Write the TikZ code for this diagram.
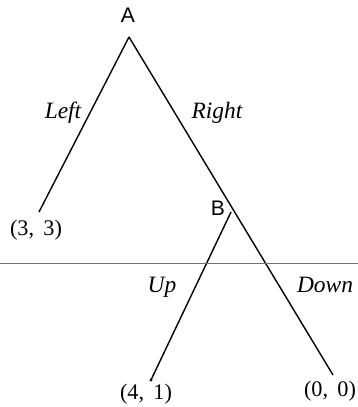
\documentclass[tikz,border=0pt]{standalone}
\usepackage{fontspec}
\setmainfont{Liberation Serif}
\setsansfont{Liberation Sans}
\usetikzlibrary{positioning}

\begin{document}
\begin{tikzpicture}[
    x=0.3mm, y=0.3mm,
    branch/.style={draw=black, line width=1.2pt},
    decision/.style={font=\sffamily\fontsize{18}{18}\selectfont, inner sep=1pt},
    move/.style={font=\itshape\fontsize{20}{20}\selectfont, inner sep=1pt},
    payoff/.style={font=\fontsize{19}{19}\selectfont, inner sep=1pt},
    divider/.style={draw=black!55, line width=0.5pt},
  ]

  \useasboundingbox (0,0) rectangle (358,407);

  % ---------- decision points and leaves
  \coordinate (a) at (129,370);
  \coordinate (b) at (231,195);
  \coordinate (l) at (39,195);
  \coordinate (u) at (151,27);
  \coordinate (d) at (333,32);

  \node[decision] (alab) at (128,392) {A};
  \node[decision] (blab) at (218,199) {B};

  % ---------- branches
  \draw[branch] (a) -- (l);
  \draw[branch] (a) -- (d);
  \draw[branch] (b) -- (u);
  \fill (u) circle (1.3pt);

  \node[move] (left) at (63,294) {Left};
  \node[move] (right) at (217,294) {Right};
  \node[move] (up) at (162,120) {Up};
  \node[move] (down) at (325,122) {Down};

  % ---------- payoffs
  \node[payoff] (p1) at (36,177) {(3,\,\ 3)};
  \node[payoff] (p2) at (146,13) {(4,\,\ 1)};
  \node[payoff] (p3) at (330,16) {(0,\,\ 0)};

  % ---------- rule across the page
  \draw[divider] (0,144) -- (358,144);

\end{tikzpicture}
\end{document}
